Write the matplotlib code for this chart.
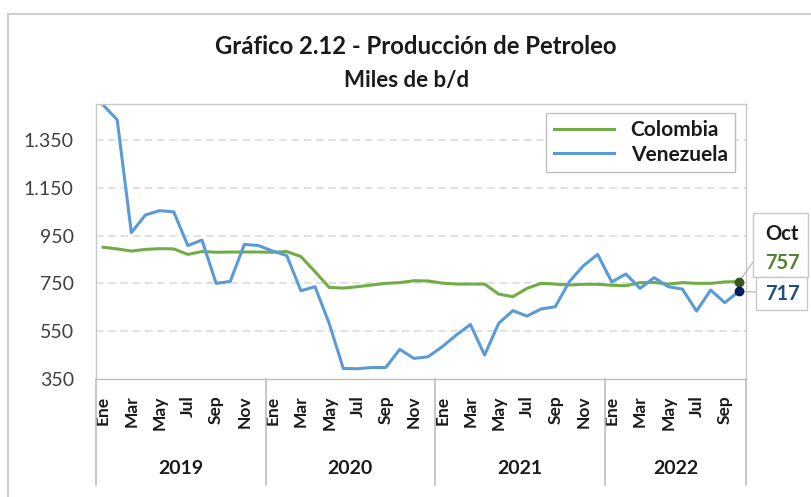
import matplotlib
matplotlib.use("Agg")
import matplotlib.pyplot as plt
from matplotlib.lines import Line2D
from matplotlib.patches import Rectangle

plt.rcParams['font.family'] = ['Lato', 'DejaVu Sans']

years = ['2019', '2020', '2021', '2022']
months = ['Ene', 'Feb', 'Mar', 'Abr', 'May', 'Jun', 'Jul', 'Ago', 'Sep', 'Oct', 'Nov', 'Dic']
n_months = 46  # Ene 2019 - Oct 2022

colombia = [901, 894, 885, 892, 895, 894, 871, 883, 880, 881, 881, 881,
            880, 883, 862, 799, 733, 730, 736, 743, 750, 753, 761, 760,
            751, 747, 747, 747, 705, 694, 729, 750, 747, 743, 746, 746,
            742, 740, 753, 754, 747, 753, 750, 750, 756, 757]
venezuela = [1496, 1434, 962, 1036, 1054, 1049, 908, 931, 750, 758, 913, 908,
             885, 866, 719, 736, 583, 394, 393, 398, 398, 474, 436, 443,
             485, 534, 578, 450, 583, 636, 613, 643, 652, 757, 824, 871,
             756, 789, 729, 774, 736, 726, 634, 722, 669, 717]
last_label = 'Oct'

W, H = 811, 497
fig = plt.figure(figsize=(W / 100, H / 100), dpi=100)
ax = fig.add_axes([96 / W, 1 - 379 / H, 650 / W, 275 / H])

x = list(range(n_months))
ax.plot(x, colombia, color='#70AD47', lw=2.2, label='Colombia', solid_joinstyle='round')
ax.plot(x, venezuela, color='#5B9BD5', lw=2.2, label='Venezuela', solid_joinstyle='round')
ax.plot([x[-1]], [colombia[-1]], 'o', color='#375623', ms=6, zorder=5)
ax.plot([x[-1]], [venezuela[-1]], 'o', color='#002060', ms=6, zorder=5)

ax.set_xlim(-0.5, n_months - 0.5)
ax.set_ylim(350, 1500)
yt = [350, 550, 750, 950, 1150, 1350]
ax.set_yticks(yt)
ax.set_yticklabels([f"{v:,}".replace(',', '.') for v in yt], fontsize=14, color='#404040')
ax.tick_params(axis='y', length=0, pad=16)
for v in yt[1:]:
    ax.axhline(v, color='#d9d9d9', lw=1.1, ls=(0, (5, 3)), zorder=0)

ticks = list(range(0, n_months, 2))
ax.set_xticks(ticks)
ax.set_xticklabels([months[i % 12] for i in ticks], rotation=90, fontsize=12.5,
                   fontweight='bold', color='#1a1a1a', va='top', ha='center')
ax.tick_params(axis='x', length=0, pad=12)

for s in ax.spines.values():
    s.set_color('#c8c8c8')
    s.set_linewidth(1.0)
ax.spines['bottom'].set_color('#bfbfbf')

# multi-level category separators and year labels
trans = ax.get_xaxis_transform()
bounds = [-0.5, 11.5, 23.5, 35.5, n_months - 0.5]
for b in bounds:
    ax.add_line(Line2D([b, b], [0, -0.385], transform=trans, color='#bfbfbf',
                       lw=1.2, clip_on=False))
for i, yr in enumerate(years):
    xc = (bounds[i] + bounds[i + 1]) / 2
    ax.text(xc, -0.324, yr, transform=trans, ha='center', va='center',
            fontsize=14, fontweight='bold', color='#1a1a1a')

leg = ax.legend(loc='upper right', bbox_to_anchor=(0.983, 0.967), borderaxespad=0,
                fancybox=False, edgecolor='#bfbfbf', framealpha=1, fontsize=15,
                handlelength=2.9, labelspacing=0.2, borderpad=0.35, handletextpad=0.8)
for t in leg.get_texts():
    t.set_fontweight('bold')
    t.set_color('#1a1a1a')
leg.get_frame().set_linewidth(1.0)

# titles
fig.text(416 / W, 1 - 47 / H, 'Gráfico 2.12 - Producción de Petroleo', ha='center',
         va='center', fontsize=17.2, fontweight='bold', color='#1a1a1a')
fig.text(407 / W, 1 - 80 / H, 'Miles de b/d', ha='center', va='center',
         fontsize=16, fontweight='bold', color='#1a1a1a')

# outer chart border
fig.add_artist(Line2D([8 / W, 1], [1 - 14 / H, 1 - 14 / H], transform=fig.transFigure,
                      color='#d0d0d0', lw=1.5))
fig.add_artist(Line2D([8 / W, 8 / W], [0, 1 - 14 / H], transform=fig.transFigure,
                      color='#d0d0d0', lw=1.5))

# callouts
def fx(px):
    return px / W

def fy(py):
    return 1 - py / H

ax.annotate('', xy=(x[-1], colombia[-1]), xycoords='data',
            xytext=(fx(753), fy(262)), textcoords='figure fraction',
            arrowprops=dict(arrowstyle='-', color='#bfbfbf', lw=1.0, shrinkA=0, shrinkB=0))
ax.annotate('', xy=(x[-1], venezuela[-1]), xycoords='data',
            xytext=(fx(756), fy(292)), textcoords='figure fraction',
            arrowprops=dict(arrowstyle='-', color='#bfbfbf', lw=1.0, shrinkA=0, shrinkB=0))
fig.add_artist(Rectangle((fx(753), fy(277)), fx(808) - fx(753), fy(213) - fy(277),
                         transform=fig.transFigure, facecolor='white',
                         edgecolor='#c8c8c8', lw=1.0))
fig.add_artist(Rectangle((fx(756), fy(310)), fx(807) - fx(756), fy(277) - fy(310),
                         transform=fig.transFigure, facecolor='white',
                         edgecolor='#c8c8c8', lw=1.0))
fig.text(fx(782), fy(234), last_label, ha='center', va='center', fontsize=14.5,
         fontweight='bold', color='#1a1a1a')
fig.text(fx(782), fy(263), str(colombia[-1]), ha='center', va='center', fontsize=14.5,
         fontweight='bold', color='#548235')
fig.text(fx(782), fy(294), str(venezuela[-1]), ha='center', va='center', fontsize=14.5,
         fontweight='bold', color='#1F4E79')

fig.savefig('out.png', dpi=100)
